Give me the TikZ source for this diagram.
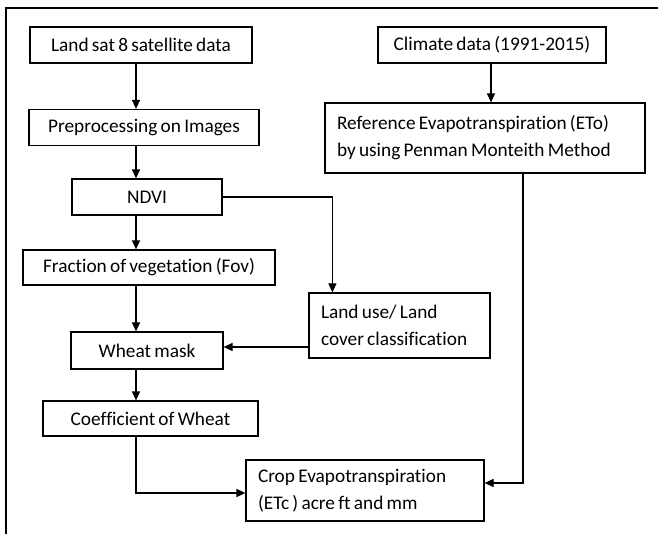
\documentclass[tikz,border=0pt]{standalone}
\usepackage{fontspec}
\setmainfont{Carlito}[WordSpace=0.75, Ligatures=NoCommon]
\usetikzlibrary{arrows.meta}

\tikzset{
  box/.style={draw, line width=1.2pt, inner sep=0pt, font=\fontsize{19.3}{27}\selectfont},
  twoline/.style={box, align=flush left, inner xsep=12pt},
}

\begin{document}
\begin{tikzpicture}[x=1pt, y=-1pt, >={Triangle[length=9pt,width=8pt]}, line width=1.2pt]
  \useasboundingbox (0,0) rectangle (658,534);
  %% outer frame
  \draw[line width=1.4pt] (6,534) -- (6,8) -- (658,8);
  %% left column
  \node[box, minimum width=222, minimum height=36] (landsat) at (141,45) {Land sat 8 satellite data};
  \node[box, minimum width=230, minimum height=36] (preproc) at (144,127.5) {Preprocessing on Images};
  \node[box, minimum width=150, minimum height=36] (ndvi) at (147,197) {NDVI};
  \node[box, minimum width=252, minimum height=35] (fov) at (149,267.5) {Fraction of vegetation (Fov)};
  \node[box, minimum width=152, minimum height=37] (wheat) at (147,350.5) {Wheat mask};
  \node[box, minimum width=215, minimum height=35] (coef) at (150.5,418.5) {Coefficient of Wheat};
  %% right column
  \node[box, minimum width=228, minimum height=36] (climate) at (492,45) {Climate data (1991-2015)};
  \node[twoline, text width=296, minimum height=70] (refet) at (485,138) {Reference Evapotranspiration (ETo)\\by using Penman Monteith Method};
  \node[twoline, text width=157, minimum height=65] (landuse) at (399.5,325.5) {Land use/ Land\\cover classification};
  \node[twoline, text width=214, minimum height=61] (crop) at (365,490.5) {Crop Evapotranspiration\\(ETc ) acre ft and mm};
  %% connectors
  \coordinate (lx) at (136,0);
  \draw[->] (landsat.south -| lx) -- (preproc.north -| lx);
  \draw[->] (preproc.south -| lx) -- (ndvi.north -| lx);
  \draw[->] (ndvi.south -| lx) -- (fov.north -| lx);
  \draw[->] (fov.south -| lx) -- (wheat.north -| lx);
  \draw[->] (wheat.south -| lx) -- (coef.north -| lx);
  \draw[->] (coef.south -| lx) |- (crop.west |- 0,493);
  \draw[->] (ndvi.east) -| ([xshift=24]landuse.north west);
  \draw[->] (landuse.west |- 0,347) -- (wheat.east |- 0,347);
  \draw[->] (climate.south -| 491,0) -- (refet.north -| 491,0);
  \draw[->] (refet.south -| 523,0) |- (crop.east |- 0,483);
\end{tikzpicture}
\end{document}
